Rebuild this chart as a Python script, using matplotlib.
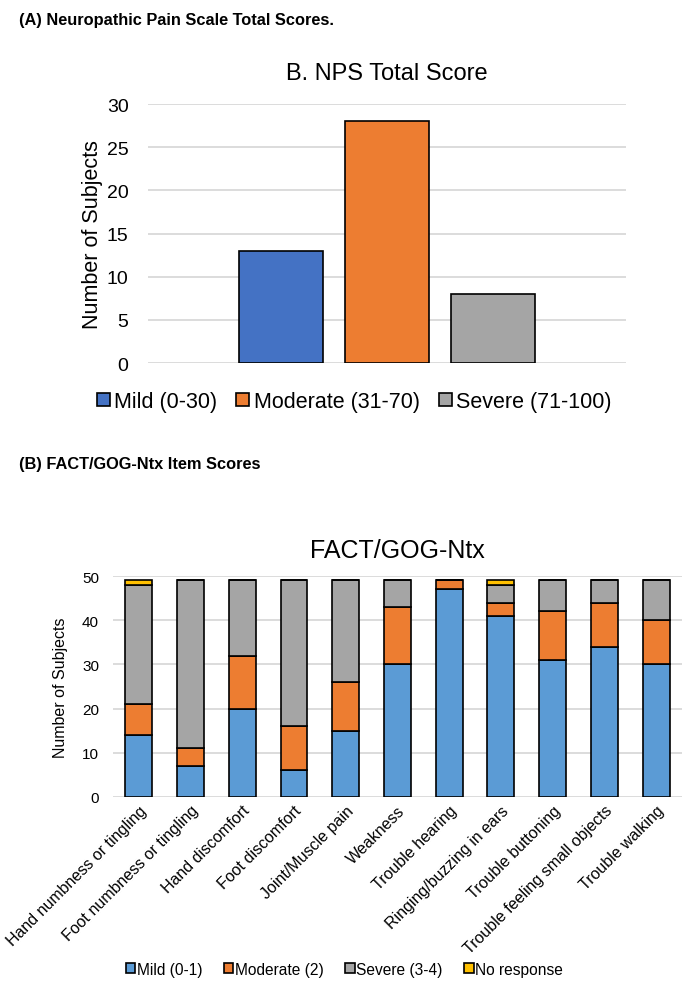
import matplotlib
matplotlib.use("Agg")
import matplotlib.pyplot as plt
import numpy as np

plt.rcParams['font.family'] = ['Liberation Sans', 'DejaVu Sans']

# --- (A) NPS total score ---
nps_labels = ['Mild (0-30)', 'Moderate (31-70)', 'Severe (71-100)']
nps_values = [13, 28, 8]
nps_colors = ['#4472C4', '#ED7D31', '#A5A5A5']

# --- (B) FACT/GOG-Ntx item scores ---
items = ['Hand numbness or tingling', 'Foot numbness or tingling', 'Hand discomfort',
         'Foot discomfort', 'Joint/Muscle pain', 'Weakness', 'Trouble hearing',
         'Ringing/buzzing in ears', 'Trouble buttoning', 'Trouble feeling small objects',
         'Trouble walking']
mild = [14, 7, 20, 6, 15, 30, 47, 41, 31, 34, 30]
moderate = [7, 4, 12, 10, 11, 13, 2, 3, 11, 10, 10]
severe = [27, 38, 17, 33, 23, 6, 0, 4, 7, 5, 9]
no_response = [1, 0, 0, 0, 0, 0, 0, 1, 0, 0, 0]
fact_series = ['Mild (0-1)', 'Moderate (2)', 'Severe (3-4)', 'No response']
fact_colors = ['#5B9BD5', '#ED7D31', '#A5A5A5', '#FFC000']

fig = plt.figure(figsize=(6.89, 9.87), dpi=100)
grid_c = '#d9d9d9'

fig.text(0.027, 0.979, '(A) Neuropathic Pain Scale Total Scores.', fontsize=11.8,
         fontweight='bold', va='center', ha='left')
fig.text(0.027, 0.529, '(B) FACT/GOG-Ntx Item Scores', fontsize=11.8,
         fontweight='bold', va='center', ha='left')

# top chart
ax1 = fig.add_axes([0.2148, 0.6312, 0.6938, 0.2624])
for i, (lab, v, c) in enumerate(zip(nps_labels, nps_values, nps_colors)):
    ax1.bar(i, v, width=0.79, color=c, edgecolor='black', linewidth=1.2, label=lab, zorder=3)
ax1.set_xlim(-1.255, 3.255)
ax1.set_ylim(0, 30)
ax1.set_yticks(range(0, 31, 5))
ax1.yaxis.grid(True, color=grid_c, linewidth=1.3, zorder=0)
ax1.set_xticks([])
for s in ax1.spines.values():
    s.set_visible(False)
ax1.tick_params(axis='y', length=0, labelsize=14, pad=14)
ax1.set_ylabel('Number of Subjects', fontsize=15.5, labelpad=3)
ax1.set_title('B. NPS Total Score', fontsize=17, pad=18)
ax1.legend(loc='center', bbox_to_anchor=(0.514, 0.592), bbox_transform=fig.transFigure,
           ncol=3, frameon=False, fontsize=15.5, handlelength=0.6, handleheight=0.6,
           handletextpad=0.2, columnspacing=0.9)

# bottom chart
ax2 = fig.add_axes([0.164, 0.1915, 0.8258, 0.2239])
x = np.arange(len(items))
bottom = np.zeros(len(items))
for vals, lab, c in zip([mild, moderate, severe, no_response], fact_series, fact_colors):
    ax2.bar(x, vals, bottom=bottom, width=0.52, color=c, edgecolor='black',
            linewidth=1.2, label=lab, zorder=3)
    bottom += np.array(vals)
ax2.set_xlim(-0.5, 10.5)
ax2.set_ylim(0, 50)
ax2.set_yticks(range(0, 51, 10))
ax2.yaxis.grid(True, color=grid_c, linewidth=1.3, zorder=0)
for s in ax2.spines.values():
    s.set_visible(False)
ax2.tick_params(axis='y', length=0, labelsize=11, pad=10)
ax2.tick_params(axis='x', length=0, labelsize=11.5, pad=4)
ax2.set_xticks(x)
ax2.set_xticklabels(items, rotation=45, ha='right', rotation_mode='anchor')
ax2.set_ylabel('Number of Subjects', fontsize=11.5, labelpad=10)
ax2.set_title('FACT/GOG-Ntx', fontsize=18, pad=14)
ax2.legend(loc='center', bbox_to_anchor=(0.5, 0.017), bbox_transform=fig.transFigure,
           ncol=4, frameon=False, fontsize=11.2, handlelength=0.6, handleheight=0.6,
           handletextpad=0.1, columnspacing=1.4)

fig.savefig('out.png', dpi=100)
